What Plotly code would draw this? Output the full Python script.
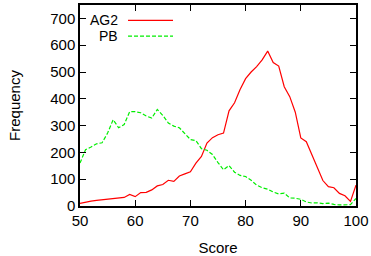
import plotly.graph_objects as go

scores = list(range(50, 101))
ag2 = [10, 15, 18, 21, 23, 26, 28, 30, 32, 43,
       35, 50, 51, 60, 75, 80, 96, 92, 112, 120,
       128, 160, 185, 235, 255, 266, 272, 355, 385, 435,
       475, 500, 520, 545, 578, 535, 522, 445, 408, 350,
       254, 240, 190, 140, 95, 72, 68, 47, 38, 17,
       78]
pb = [160, 210, 220, 232, 236, 272, 322, 292, 304, 352,
      352, 348, 336, 328, 360, 338, 310, 298, 292, 270,
      248, 244, 214, 208, 192, 162, 135, 151, 126, 114,
      110, 96, 78, 68, 63, 52, 45, 48, 30, 29,
      25, 15, 11, 12, 9, 11, 6, 4, 4, 5,
      28]
series_names = ["AG2", "PB"]
x_ticks = [50, 60, 70, 80, 90, 100]
y_ticks = [0, 100, 200, 300, 400, 500, 600, 700]

FONT = "Liberation Sans, Arial, sans-serif"
RED = "#ff0000"
GREEN = "#00ee00"

fig = go.Figure()
fig.add_trace(go.Scatter(x=scores, y=ag2, mode="lines", name=series_names[0],
                         line=dict(color=RED, width=1.2)))
fig.add_trace(go.Scatter(x=scores, y=pb, mode="lines", name=series_names[1],
                         line=dict(color=GREEN, width=1.2, dash="4px,2px")))

# gnuplot-style legend: text right-aligned, sample line to the right
legend_rows = [(series_names[0], RED, "solid", 0.924),
               (series_names[1], GREEN, "4px,2px", 0.845)]
for name, col, dash, yp in legend_rows:
    fig.add_annotation(x=0.141, y=yp, xref="paper", yref="paper", text=name,
                       showarrow=False, xanchor="right", yanchor="middle",
                       borderpad=0,
                       font=dict(family=FONT, size=14, color="black"))
    fig.add_shape(type="line", xref="paper", yref="paper", x0=0.174, x1=0.337,
                  y0=yp, y1=yp, line=dict(color=col, width=1.2, dash=dash))

axis_common = dict(showline=True, linecolor="black", linewidth=1.5, mirror="allticks",
                   ticks="inside", ticklen=6, tickwidth=1, tickcolor="black",
                   showgrid=False, zeroline=False, automargin=False,
                   tickfont=dict(family=FONT, size=15, color="black"))

fig.update_xaxes(range=[50, 100], tickvals=x_ticks, ticktext=[str(v) for v in x_ticks],
                 title=dict(text="Score", font=dict(family=FONT, size=15, color="black"),
                            standoff=16),
                 **axis_common)
fig.update_yaxes(range=[0, 750], tickvals=y_ticks, ticktext=[str(v) for v in y_ticks],
                 title=dict(text="Frequency", font=dict(family=FONT, size=15, color="black"),
                            standoff=26),
                 **axis_common)

fig.update_layout(width=371, height=256, showlegend=False,
                  plot_bgcolor="white", paper_bgcolor="white",
                  margin=dict(l=80, r=15, t=5, b=50))

fig.write_html("out.html", config={"displayModeBar": False},
               post_script="document.body.style.margin='0';")
